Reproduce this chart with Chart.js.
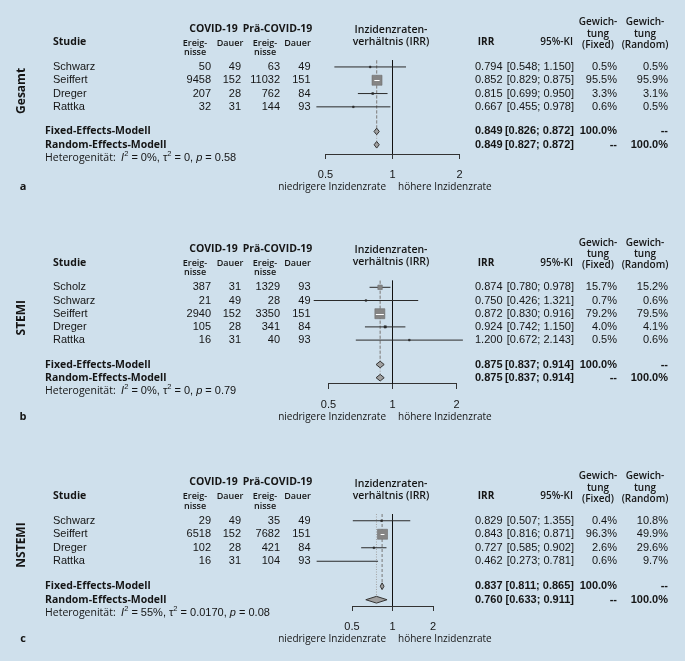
<!DOCTYPE html>
<html lang="de">
<head>
<meta charset="utf-8">
<title>Inzidenzratenverhältnis – Forest-Plots</title>
<script src="https://cdn.jsdelivr.net/npm/chart.js@4.4.1/dist/chart.umd.min.js"></script>
<style>
  html, body { margin: 0; padding: 0; background: #cfe0ec; }
  #wrap { position: relative; width: 685px; height: 661px; overflow: hidden; }
  #wrap canvas { position: absolute; left: 0; top: 0; }
</style>
</head>
<body>
<div id="wrap">
  <canvas id="chartA" width="685" height="661"></canvas>
  <canvas id="chartB" width="685" height="661"></canvas>
  <canvas id="chartC" width="685" height="661"></canvas>
</div>
<script>
// IRR axis ticks
const axisTicks = [0.5, 1, 2];
const axisTickLabels = ['0.5', '1', '2'];

// a: Gesamt
const studiesA = ['Schwarz', 'Seiffert', 'Dreger', 'Rattka'];
const covidEventsA = [50, 9458, 207, 32];
const covidDurationA = [49, 152, 28, 31];
const preEventsA = [63, 11032, 762, 144];
const preDurationA = [49, 151, 84, 93];
const irrA = [0.794, 0.852, 0.815, 0.667];
const lowerA = [0.548, 0.829, 0.699, 0.455];
const upperA = [1.150, 0.875, 0.950, 0.978];
const weightFixedA = [0.5, 95.5, 3.3, 0.6];
const weightRandomA = [0.5, 95.9, 3.1, 0.5];
const fixedA = [0.849, 0.826, 0.872];   // IRR, lower, upper
const randomA = [0.849, 0.827, 0.872];
const hetA = ['0%', '0', '0.58'];       // I², tau², p

// b: STEMI
const studiesB = ['Scholz', 'Schwarz', 'Seiffert', 'Dreger', 'Rattka'];
const covidEventsB = [387, 21, 2940, 105, 16];
const covidDurationB = [31, 49, 152, 28, 31];
const preEventsB = [1329, 28, 3350, 341, 40];
const preDurationB = [93, 49, 151, 84, 93];
const irrB = [0.874, 0.750, 0.872, 0.924, 1.200];
const lowerB = [0.780, 0.426, 0.830, 0.742, 0.672];
const upperB = [0.978, 1.321, 0.916, 1.150, 2.143];
const weightFixedB = [15.7, 0.7, 79.2, 4.0, 0.5];
const weightRandomB = [15.2, 0.6, 79.5, 4.1, 0.6];
const fixedB = [0.875, 0.837, 0.914];
const randomB = [0.875, 0.837, 0.914];
const hetB = ['0%', '0', '0.79'];

// c: NSTEMI
const studiesC = ['Schwarz', 'Seiffert', 'Dreger', 'Rattka'];
const covidEventsC = [29, 6518, 102, 16];
const covidDurationC = [49, 152, 28, 31];
const preEventsC = [35, 7682, 421, 104];
const preDurationC = [49, 151, 84, 93];
const irrC = [0.829, 0.843, 0.727, 0.462];
const lowerC = [0.507, 0.816, 0.585, 0.273];
const upperC = [1.355, 0.871, 0.902, 0.781];
const weightFixedC = [0.4, 96.3, 2.6, 0.6];
const weightRandomC = [10.8, 49.9, 29.6, 9.7];
const fixedC = [0.837, 0.811, 0.865];
const randomC = [0.760, 0.633, 0.911];
const hetC = ['55%', '0.0170', '0.08'];

const INK = '#151515';
const HF = '"Open Sans", "Noto Sans", sans-serif';
const NF = '"Liberation Sans", Arial, sans-serif';
const FIX_ROW = 0.85, RND_ROW = 1.85, DIAMOND_H = 0.25, BOX_MAX = 10;

const panels = [
  { id: 'chartA', letter: 'a', group: 'Gesamt', studies: studiesA,
    covidEvents: covidEventsA, covidDuration: covidDurationA, preEvents: preEventsA, preDuration: preDurationA,
    irr: irrA, lower: lowerA, upper: upperA, wFixed: weightFixedA, wRandom: weightRandomA,
    fixed: fixedA, random: randomA, het: hetA,
    left: 325.5, right: 459.5, top: 60.3, axisY: 154, step: 13.3 },
  { id: 'chartB', letter: 'b', group: 'STEMI', studies: studiesB,
    covidEvents: covidEventsB, covidDuration: covidDurationB, preEvents: preEventsB, preDuration: preDurationB,
    irr: irrB, lower: lowerB, upper: upperB, wFixed: weightFixedB, wRandom: weightRandomB,
    fixed: fixedB, random: randomB, het: hetB,
    left: 328.5, right: 456.5, top: 280.7, axisY: 384, step: 13.2 },
  { id: 'chartC', letter: 'c', group: 'NSTEMI', studies: studiesC,
    covidEvents: covidEventsC, covidDuration: covidDurationC, preEvents: preEventsC, preDuration: preDurationC,
    irr: irrC, lower: lowerC, upper: upperC, wFixed: weightFixedC, wRandom: weightRandomC,
    fixed: fixedC, random: randomC, het: hetC,
    left: 352, right: 433, top: 514, axisY: 606, step: 13.5 }
];

const pct = v => v.toFixed(1) + '%';
const ci = (lo, hi) => '[' + lo.toFixed(3) + '; ' + hi.toFixed(3) + ']';

function put(ctx, s, x, y, align, font) {
  ctx.font = font;
  ctx.textAlign = align;
  ctx.fillText(s, x, y);
}

function boxSide(p, i) {
  const wmax = Math.max(...p.wFixed);
  return Math.max(1.6, BOX_MAX * Math.sqrt(p.wFixed[i] / wmax));
}

function seg(points, color, width, dash, order) {
  return { data: points, showLine: true, borderColor: color, borderWidth: width, borderDash: dash,
    pointRadius: 0, pointHoverRadius: 0, fill: false, clip: false, order: order };
}

function diamond(est, y, color, order) {
  const pts = [
    { x: est[1], y: y }, { x: est[0], y: y - DIAMOND_H },
    { x: est[2], y: y }, { x: est[0], y: y + DIAMOND_H }, { x: est[1], y: y }
  ];
  return { data: pts, showLine: true, borderColor: '#333', borderWidth: 1, backgroundColor: color,
    fill: 'shape', pointRadius: 0, pointHoverRadius: 0, clip: false, order: order };
}

function buildDatasets(p, yMax) {
  const n = p.studies.length;
  const yFix = n + FIX_ROW, yRnd = n + RND_ROW;
  const ds = [];
  // no-effect line, fixed and random estimate lines
  ds.push(seg([{ x: 1, y: -0.5 }, { x: 1, y: yMax }], '#111', 1, [], 6));
  ds.push(seg([{ x: p.random[0], y: -0.5 }, { x: p.random[0], y: yRnd - DIAMOND_H }], '#a4a4a4', 1, [1, 1.5], 5));
  ds.push(seg([{ x: p.fixed[0], y: -0.5 }, { x: p.fixed[0], y: yFix - DIAMOND_H }], '#777', 1, [3, 2], 5));
  // confidence intervals
  p.studies.forEach((s, i) => {
    ds.push(seg([{ x: p.lower[i], y: i }, { x: p.upper[i], y: i }], '#2a2a2a', 1, [], 4));
  });
  // study boxes
  const sides = p.studies.map((s, i) => boxSide(p, i));
  ds.push({
    data: p.irr.map((v, i) => ({ x: v, y: i })),
    pointStyle: 'rect',
    pointRadius: sides.map(s => s / Math.SQRT2),
    pointHoverRadius: sides.map(s => s / Math.SQRT2),
    pointBackgroundColor: sides.map(s => s < 4 ? '#2a2a2a' : '#858585'),
    pointBorderColor: sides.map(s => s < 4 ? '#2a2a2a' : '#6d6d6d'),
    pointBorderWidth: 0.6,
    showLine: false, clip: false, order: 2
  });
  ds.push(diamond(p.fixed, yFix, '#a0a0a0', 1));
  ds.push(diamond(p.random, yRnd, '#a0a0a0', 1));
  return ds;
}

function panelPlugin(p) {
  return {
    id: 'panelText' + p.letter,
    afterDatasetsDraw(chart) {
      const ctx = chart.ctx;
      const xs = chart.scales.x, ys = chart.scales.y;
      const n = p.studies.length;
      const rowY = i => ys.getPixelForValue(i);
      const y0 = rowY(0);
      ctx.save();

      // white CI inside large boxes
      ctx.strokeStyle = '#ffffff';
      ctx.lineWidth = 1;
      p.studies.forEach((s, i) => {
        const half = boxSide(p, i) / 2;
        if (half < 3) return;
        const cx = xs.getPixelForValue(p.irr[i]);
        const a = Math.max(xs.getPixelForValue(p.lower[i]), cx - half + 1);
        const b = Math.min(xs.getPixelForValue(p.upper[i]), cx + half - 1);
        const y = Math.round(rowY(i)) + 0.5;
        ctx.beginPath(); ctx.moveTo(a, y); ctx.lineTo(b, y); ctx.stroke();
      });

      ctx.fillStyle = INK;
      ctx.textBaseline = 'middle';

      // column headers
      const hb = 'bold 10.5px ' + HF;
      put(ctx, 'COVID-19', 213.5, y0 - 38.3, 'center', hb);
      put(ctx, 'Prä-COVID-19', 277.5, y0 - 38.3, 'center', hb);
      put(ctx, 'Studie', 53, y0 - 24.5, 'left', hb);
      const hs = '600 9px ' + HF;
      [[195, 230], [265, 297.5]].forEach(([ex, dx]) => {
        put(ctx, 'Ereig-', ex, y0 - 24, 'center', hs);
        put(ctx, 'nisse', ex, y0 - 14.5, 'center', hs);
        put(ctx, 'Dauer', dx, y0 - 24, 'center', hs);
      });
      const hm = '600 10.5px ' + HF;
      put(ctx, 'Inzidenzraten-', 391, y0 - 37, 'center', hm);
      put(ctx, 'verhältnis (IRR)', 391, y0 - 25, 'center', hm);
      put(ctx, 'IRR', 486, y0 - 24.3, 'center', 'bold 10px ' + HF);
      put(ctx, '95%-KI', 573, y0 - 24.3, 'right', '600 10px ' + HF);
      const hw = '600 10px ' + HF;
      [[598, '(Fixed)'], [645, '(Random)']].forEach(([cx, lab]) => {
        put(ctx, 'Gewich-', cx, y0 - 44.5, 'center', hw);
        put(ctx, 'tung', cx, y0 - 33, 'center', hw);
        put(ctx, lab, cx, y0 - 21.7, 'center', hw);
      });

      // study rows
      const rf = '11px ' + NF;
      p.studies.forEach((s, i) => {
        const y = rowY(i);
        put(ctx, s, 53, y, 'left', rf);
        put(ctx, String(p.covidEvents[i]), 211, y, 'right', rf);
        put(ctx, String(p.covidDuration[i]), 241, y, 'right', rf);
        put(ctx, String(p.preEvents[i]), 280, y, 'right', rf);
        put(ctx, String(p.preDuration[i]), 310.5, y, 'right', rf);
        put(ctx, p.irr[i].toFixed(3), 475, y, 'left', rf);
        put(ctx, ci(p.lower[i], p.upper[i]), 574, y, 'right', rf);
        put(ctx, pct(p.wFixed[i]), 617, y, 'right', rf);
        put(ctx, pct(p.wRandom[i]), 668, y, 'right', rf);
      });

      // summary rows
      const bf = 'bold 11px ' + NF;
      const yF = rowY(n + FIX_ROW), yR = rowY(n + RND_ROW);
      put(ctx, 'Fixed-Effects-Modell', 45, yF, 'left', hb);
      put(ctx, p.fixed[0].toFixed(3), 475, yF, 'left', bf);
      put(ctx, ci(p.fixed[1], p.fixed[2]), 574, yF, 'right', bf);
      put(ctx, '100.0%', 617, yF, 'right', bf);
      put(ctx, '--', 668, yF, 'right', bf);
      put(ctx, 'Random-Effects-Modell', 45, yR, 'left', hb);
      put(ctx, p.random[0].toFixed(3), 475, yR, 'left', bf);
      put(ctx, ci(p.random[1], p.random[2]), 574, yR, 'right', bf);
      put(ctx, '--', 617, yR, 'right', bf);
      put(ctx, '100.0%', 668, yR, 'right', bf);

      // heterogeneity line
      const yH = rowY(n + RND_ROW + 1);
      const sup = '7.5px ' + NF;
      const parts = [
        ['Heterogenität:  ', '10.5px ' + HF, 0],
        ['I', 'italic 11px ' + NF, 0], ['2', sup, -4],
        [' = ' + p.het[0] + ', ', rf, 0],
        ['τ', rf, 0], ['2', sup, -4],
        [' = ' + p.het[1] + ', ', rf, 0],
        ['p', 'italic 11px ' + NF, 0],
        [' = ' + p.het[2], rf, 0]
      ];
      let hx = 45;
      ctx.textAlign = 'left';
      parts.forEach(([s, f, dy]) => {
        ctx.font = f;
        ctx.fillText(s, hx, yH + dy);
        hx += ctx.measureText(s).width;
      });

      // axis captions and panel letter
      const yc = p.axisY + 33;
      put(ctx, 'niedrigere Inzidenzrate', 386, yc, 'right', '10px ' + HF);
      put(ctx, 'höhere Inzidenzrate', 398, yc, 'left', '10px ' + HF);
      put(ctx, p.letter, 23, yc, 'center', 'bold 11px ' + HF);

      // vertical group label
      const cy = (rowY(0) + rowY(n - 1)) / 2 + 4;
      ctx.translate(22, cy);
      ctx.rotate(-Math.PI / 2);
      put(ctx, p.group, 0, 0, 'center', 'bold 12px ' + HF);
      ctx.restore();
    }
  };
}

const tickLen = 5, tickPad = 9, tickFont = 11;
const axisHeight = tickLen + tickFont * 1.2 + tickPad * 2;

panels.forEach(p => {
  const yMax = -0.5 + (p.axisY - p.top) / p.step;
  new Chart(document.getElementById(p.id), {
    type: 'scatter',
    data: { datasets: buildDatasets(p, yMax) },
    options: {
      responsive: false,
      animation: false,
      events: [],
      layout: { padding: { left: p.left, right: 685 - p.right, top: p.top, bottom: 661 - p.axisY - axisHeight } },
      plugins: { legend: { display: false }, tooltip: { enabled: false } },
      scales: {
        x: {
          type: 'logarithmic', min: 0.5, max: 2, position: 'bottom',
          afterBuildTicks: s => { s.ticks = axisTicks.map(v => ({ value: v })); },
          ticks: {
            autoSkip: false, maxRotation: 0, padding: tickPad, color: INK,
            font: { family: NF, size: tickFont },
            callback: v => axisTickLabels[axisTicks.indexOf(v)]
          },
          grid: { drawOnChartArea: false, drawTicks: true, tickLength: tickLen, color: '#333', lineWidth: 1 },
          border: { display: true, color: '#333', width: 1 }
        },
        y: { type: 'linear', reverse: true, min: -0.5, max: yMax, display: false }
      }
    },
    plugins: [panelPlugin(p)]
  });
});
</script>
</body>
</html>
